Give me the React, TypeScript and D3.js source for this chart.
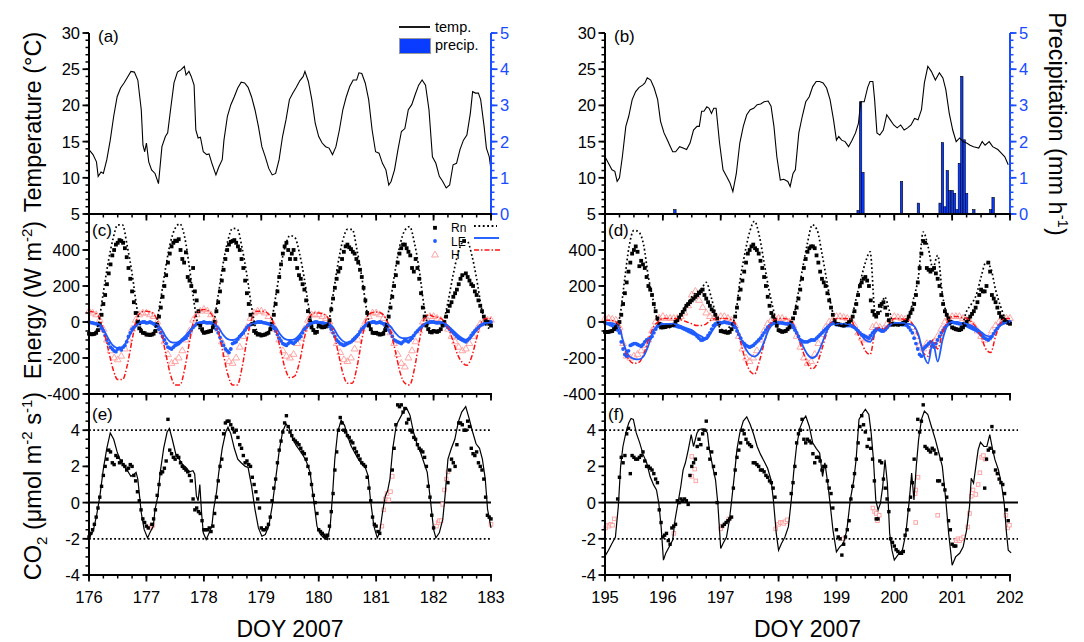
import React from 'react';
import * as d3 from 'd3';

// ---------------- data ----------------
type Pt = [number, number | null];

const DOMAIN_L: [number, number] = [176, 183];
const DOMAIN_R: [number, number] = [195, 202];
const X_TICKS_L = [176, 177, 178, 179, 180, 181, 182, 183];
const X_TICKS_R = [195, 196, 197, 198, 199, 200, 201, 202];
const TEMP_TICKS = [5, 10, 15, 20, 25, 30];
const PRECIP_TICKS = [0, 1, 2, 3, 4, 5];
const ENERGY_TICKS = [-400, -200, 0, 200, 400];
const CO2_TICKS = [-4, -2, 0, 2, 4];

// air temperature (day, °C)
const TEMP_A: [number, number][] = [
  [176.00,13.9],[176.07,13.2],[176.13,12.2],[176.16,10.2],[176.21,10.8],[176.25,10.6],[176.31,12.5],[176.37,15.2],[176.43,18.5],[176.49,21.2],[176.55,22.4],[176.61,23.1],[176.67,23.9],[176.73,24.7],[176.79,24.6],[176.85,23.5],[176.91,19.4],[176.94,14.5],[176.97,13.6],[177.00,14.8],
  [177.04,12.2],[177.09,11.1],[177.15,10.6],[177.21,9.2],[177.27,14.3],[177.33,15.7],[177.37,16.2],[177.42,19.4],[177.48,23.1],[177.54,24.6],[177.60,24.9],[177.66,25.4],[177.69,24.2],[177.74,24.7],[177.78,24.0],[177.83,22.8],[177.86,16.6],[177.90,15.5],[177.94,15.6],[177.99,13.6],
  [178.05,13.2],[178.09,13.3],[178.14,12.0],[178.21,10.4],[178.26,11.5],[178.32,12.5],[178.35,15.2],[178.41,18.5],[178.47,20.1],[178.53,21.2],[178.59,22.4],[178.65,23.2],[178.71,23.1],[178.77,22.5],[178.83,21.2],[178.89,19.4],[178.95,17.1],
  [179.01,14.3],[179.07,12.9],[179.13,11.3],[179.19,10.4],[179.25,10.6],[179.31,12.5],[179.37,15.7],[179.43,18.0],[179.49,20.8],[179.55,21.7],[179.61,22.5],[179.67,23.4],[179.73,24.0],[179.76,24.7],[179.82,23.3],[179.88,20.8],[179.94,17.5],
  [180.00,15.7],[180.06,14.8],[180.12,14.3],[180.18,14.1],[180.24,13.2],[180.30,14.3],[180.36,16.6],[180.42,19.4],[180.48,21.2],[180.54,22.6],[180.60,23.5],[180.66,23.5],[180.70,24.5],[180.75,24.4],[180.81,23.1],[180.87,20.8],[180.93,16.6],[180.99,13.6],
  [181.05,13.4],[181.11,12.0],[181.17,11.1],[181.22,9.0],[181.26,9.5],[181.32,11.1],[181.38,13.9],[181.44,16.4],[181.50,16.8],[181.56,19.4],[181.62,20.1],[181.68,21.5],[181.74,22.8],[181.80,23.5],[181.86,22.8],[181.92,19.4],[181.98,12.9],
  [182.04,12.0],[182.10,10.2],[182.16,9.5],[182.22,8.6],[182.28,9.0],[182.34,11.8],[182.40,12.0],[182.46,13.9],[182.52,15.2],[182.58,15.9],[182.64,18.9],[182.68,21.9],[182.73,21.7],[182.78,21.7],[182.82,20.8],[182.88,17.1],[182.92,14.1],[182.97,12.9],[183.00,11.1]
];

const TEMP_B: [number, number][] = [
  [195.00,12.9],[195.06,12.0],[195.12,11.1],[195.17,10.9],[195.21,9.5],[195.25,10.0],[195.30,12.9],[195.36,17.1],[195.41,18.5],[195.47,20.8],[195.53,21.9],[195.59,22.5],[195.65,22.8],[195.69,23.1],[195.73,23.8],[195.79,23.5],[195.85,22.4],[195.91,20.8],[195.96,17.8],
  [196.02,16.2],[196.08,15.2],[196.13,14.3],[196.17,13.6],[196.22,13.6],[196.29,14.3],[196.35,14.1],[196.41,13.9],[196.47,14.8],[196.53,16.6],[196.59,17.1],[196.63,17.1],[196.67,19.2],[196.71,19.2],[196.76,19.8],[196.80,19.6],[196.84,18.9],[196.88,19.6],[196.92,19.6],[196.98,14.8],
  [197.04,11.1],[197.10,10.2],[197.16,9.3],[197.21,8.1],[197.27,10.6],[197.33,14.8],[197.39,17.1],[197.45,18.7],[197.51,19.4],[197.57,19.6],[197.63,20.1],[197.69,20.2],[197.75,20.5],[197.82,20.6],[197.87,19.9],[197.92,17.1],[197.97,12.9],
  [198.03,9.7],[198.09,9.8],[198.16,9.5],[198.20,8.8],[198.25,10.6],[198.29,11.1],[198.35,16.2],[198.41,18.5],[198.47,20.5],[198.53,21.2],[198.59,22.6],[198.65,23.3],[198.71,23.3],[198.77,23.1],[198.83,22.4],[198.89,20.8],[198.95,18.0],
  [199.00,15.2],[199.04,15.7],[199.09,15.2],[199.15,15.0],[199.21,14.3],[199.27,15.2],[199.33,16.2],[199.38,17.5],[199.42,20.5],[199.48,20.5],[199.54,22.5],[199.58,23.3],[199.63,23.3],[199.66,20.8],[199.70,16.2],[199.75,15.9],[199.81,16.6],[199.87,18.7],[199.93,18.0],[199.99,17.3],
  [200.05,16.9],[200.11,17.3],[200.17,16.6],[200.23,16.9],[200.29,17.3],[200.35,18.2],[200.41,18.0],[200.47,19.4],[200.52,23.1],[200.58,25.4],[200.64,24.7],[200.71,23.5],[200.78,24.5],[200.84,23.8],[200.89,22.2],[200.95,18.9],
  [201.01,16.6],[201.07,15.0],[201.13,15.5],[201.19,15.0],[201.25,14.8],[201.31,14.5],[201.37,14.3],[201.46,14.1],[201.52,15.0],[201.57,14.5],[201.64,15.0],[201.70,14.3],[201.79,13.9],[201.85,13.4],[201.91,12.9],[201.97,11.8]
];

// hourly precipitation (mm h-1), panel b
const PRECIP_DAY = [196.208, 199.375, 199.417, 199.458, 200.125, 200.417, 200.792, 200.833, 200.875, 200.917, 200.958, 201.0, 201.042, 201.083, 201.125, 201.167, 201.208, 201.25, 201.375, 201.667, 201.708];
const PRECIP_VAL = [0.12, 0.1, 3.1, 1.15, 0.9, 0.3, 0.3, 1.97, 0.2, 1.2, 0.65, 0.65, 0.57, 0.12, 1.4, 3.8, 2.05, 0.57, 0.12, 0.12, 0.46];

// energy fluxes, panel c (modelled: 12 values per day; observed: 16 values per day, plus a
// second set taken half-way between those times)
const RN_MOD_C = [
  -65,-65,-5,165,330,460,540,540,420,270,80,-40,
  -65,-68,-15,130,300,440,520,545,470,300,100,-35,
  -60,-60,-10,150,320,450,520,515,410,260,80,-45,
  -70,-70,-15,140,300,420,480,470,380,240,70,-40,
  -30,-35,-5,150,320,450,515,515,400,250,70,-45,
  -60,-65,-15,120,290,430,510,530,440,290,90,-30,
  -45,-50,-5,110,250,370,440,450,370,240,80,-20,
  -40
];
const RN_OBS_C = [
  -65,-68,-60,-10,100,210,320,400,440,450,410,300,170,50,-35,-60,
  -70,-72,-65,-15,80,200,330,420,452,460,350,387,230,300,120,-20,
  -60,-55,-50,0,110,230,350,430,450,440,400,300,160,40,-50,-70,
  -75,-70,-60,-10,100,250,380,440,350,400,300,240,180,60,-30,-60,
  -20,-30,-25,10,130,240,300,390,430,405,380,330,250,120,-20,-60,
  -60,-70,-65,-20,80,200,330,410,430,390,300,350,240,80,-20,-55,
  -50,-55,-40,0,60,110,160,210,260,270,230,200,150,90,30,0,
  -20
];
const RN_OBS_C2 = [
  -68,-66,-45,40,150,270,370,430,455,440,360,240,110,0,-50,-62,
  -70,-70,-50,30,140,260,380,440,450,400,330,250,200,170,60,-40,
  -58,-52,-30,60,170,290,400,445,455,420,350,230,100,-10,-60,-68,
  -72,-65,-40,40,170,320,420,400,380,350,260,210,120,10,-45,-55,
  -25,-28,-10,70,190,280,350,420,415,390,350,290,190,50,-40,-62,
  -65,-68,-45,30,140,260,380,430,410,370,280,300,160,30,-40,-58,
  -52,-50,-20,30,90,140,180,240,450,250,210,170,120,60,10,-10
];
const LE_MOD_C = [
  -5,-5,-10,-40,-90,-130,-145,-140,-100,-50,-15,-5,
  -3,-3,-10,-35,-80,-110,-115,-105,-80,-50,-20,-5,
  -3,-3,-10,-30,-70,-95,-100,-90,-60,-30,-10,-3,
  -5,-5,-10,-30,-70,-95,-100,-95,-70,-35,-10,-3,
  -3,-3,-8,-30,-75,-105,-115,-110,-80,-40,-10,-3,
  -3,-3,-8,-25,-60,-85,-90,-85,-70,-40,-15,-3,
  0,0,-5,-20,-45,-70,-90,-100,-80,-45,-15,-5,
  -3
];
const LE_OBS_C = [
  0,-5,-10,-20,-50,-100,-140,-160,-150,-155,-130,-80,-40,-20,-5,0,
  -5,0,-10,-25,-60,-100,-140,-150,-130,-120,-100,-90,-60,-30,-10,-5,
  0,-5,-5,-20,-60,-110,-150,-170,-120,-110,-80,-60,-30,-15,-5,0,
  0,-5,-10,-20,-50,-90,-120,-130,-110,-120,-100,-80,-40,-20,-5,0,
  -5,-5,-10,-25,-60,-100,-120,-130,-120,-110,-90,-70,-40,-20,-5,0,
  -5,0,-10,-30,-60,-100,-110,-120,-100,-110,-90,-60,-40,-20,-10,0,
  0,-5,-5,-15,-30,-50,-70,-90,-100,-110,-90,-60,-40,-20,-10,0,
  0
];
const LE_OBS_C2 = [
  -3,-8,-15,-35,-75,-120,-150,-165,-145,-140,-110,-60,-30,-10,-3,0,
  -3,-5,-18,-40,-80,-120,-145,-140,-125,-110,-95,-75,-45,-20,-8,-3,
  -3,-3,-10,-40,-85,-130,-160,-150,-115,-95,-70,-45,-20,-10,-3,0,
  -3,-8,-15,-35,-70,-105,-125,-120,-115,-110,-90,-60,-30,-10,-3,0,
  -5,-8,-15,-40,-80,-110,-125,-125,-115,-100,-80,-55,-30,-10,-3,0,
  -3,-5,-20,-45,-80,-105,-115,-110,-105,-100,-75,-50,-30,-15,-5,0,
  -3,-3,-10,-20,-40,-60,-80,-95,-105,-100,-75,-50,-30,-15,-5,0
];
const H_MOD_C = [
  60,55,30,-40,-150,-260,-320,-320,-240,-100,20,55,
  60,55,25,-50,-170,-290,-350,-350,-260,-110,20,60,
  70,60,25,-50,-170,-290,-350,-350,-250,-100,20,60,
  60,55,25,-40,-150,-260,-310,-300,-220,-90,20,50,
  50,45,20,-50,-160,-280,-340,-340,-250,-100,20,50,
  55,50,20,-50,-160,-280,-340,-350,-260,-110,15,40,
  30,25,10,-30,-100,-180,-225,-240,-190,-90,0,20,
  20
];
const H_OBS_C = [
  60,50,40,10,-40,-100,-160,-200,-210,-190,-150,-100,-40,10,40,50,
  50,40,30,0,-50,-110,-180,-230,-220,-200,-160,-100,-50,10,40,60,
  70,60,40,10,-40,-110,-180,-220,-230,-200,-140,-80,-30,20,50,60,
  60,50,30,0,-40,-100,-160,-190,-200,-180,-120,-90,-40,10,40,40,
  40,30,20,0,-50,-120,-170,-210,-220,-200,-150,-100,-40,0,30,50,
  50,40,20,-10,-60,-120,-180,-230,-250,-200,-160,-110,-50,0,20,30,
  30,20,10,-10,-40,-80,-110,-140,-160,-150,-120,-80,-40,-10,0,10,
  10
];

// energy fluxes, panel d
const RN_MOD_D = [
  -50,-50,-30,20,220,420,510,500,430,250,120,0,
  -30,-35,-20,10,60,100,140,165,185,220,140,40,
  -40,-45,-20,30,230,380,500,560,480,330,180,60,
  -40,-50,-30,20,150,300,440,540,510,380,230,80,
  -10,-15,-10,10,120,230,330,390,60,50,140,60,
  -20,-20,-15,30,130,250,500,420,300,370,150,30,
  -30,-35,-20,60,100,150,250,330,300,180,90,20,
  -10
];
const RN_OBS_D = [
  -55,-55,-50,-30,0,100,220,330,400,390,340,300,200,150,60,-10,
  -30,-25,-20,-15,10,40,70,100,120,140,160,180,130,90,60,20,
  -50,-55,-60,-40,30,130,230,330,400,430,400,340,250,140,50,10,
  -45,-55,-50,-30,20,80,180,300,390,420,410,330,240,200,120,40,
  -10,-15,-20,-10,10,60,150,220,250,200,60,30,90,110,40,-10,
  -10,-15,-10,0,30,70,150,300,450,300,280,300,240,150,60,20,
  -30,-40,-45,-30,0,30,60,110,180,170,330,150,110,50,20,0,
  -10
];
const RN_OBS_D2 = [
  -55,-52,-40,-15,40,160,280,380,420,310,320,250,180,100,20,-30,
  -28,-22,-18,0,25,55,90,110,130,150,170,150,110,70,40,-10,
  -52,-58,-55,-10,80,180,280,380,420,410,380,300,200,90,30,-20,
  -50,-52,-40,-5,50,130,240,350,410,420,370,280,220,160,80,10,
  -12,-18,-15,0,30,100,200,240,230,120,40,50,100,80,10,-15,
  -12,-12,-5,10,50,100,220,380,440,290,290,270,200,100,40,0,
  -35,-42,-40,-15,15,45,80,150,170,200,280,130,80,30,10,-5
];
const LE_MOD_D = [
  -5,-5,-10,-35,-130,-190,-205,-208,-190,-130,-50,-20,
  -10,-10,-10,-15,-25,-35,-45,-65,-80,-95,-60,-20,
  -5,-5,-5,-20,-80,-140,-180,-192,-170,-110,-40,-10,
  -5,-5,-5,-15,-70,-130,-180,-200,-180,-120,-50,-15,
  -10,-10,-10,-15,-40,-70,-100,-110,-60,-40,-50,-20,
  -5,-5,-5,-10,-20,-70,-175,-230,-110,-220,-100,-20,
  0,0,-5,-10,-20,-35,-55,-75,-80,-50,-20,-5,
  0
];
const LE_OBS_D = [
  -5,-10,-20,-30,-60,-150,-190,-130,-120,-125,-135,-110,-95,-80,-40,-15,
  -20,-20,-15,-20,-25,-30,-40,-50,-60,-70,-90,-100,-90,-60,-20,-5,
  -5,0,-5,-10,-30,-70,-110,-130,-140,-130,-110,-90,-60,-30,-10,-5,
  -5,-5,-10,-10,-30,-60,-100,-110,-110,-100,-100,-80,-60,-40,-20,-5,
  -15,-15,-20,-20,-20,-30,-50,-70,-80,-90,-60,-40,-45,-50,-30,-15,
  -10,-10,-15,-15,-30,-60,-120,-180,-150,-130,-110,-140,-100,-60,-30,-10,
  0,-5,-10,-10,-20,-30,-40,-50,-70,-90,-100,-80,-50,-20,-5,0,
  0
];
const LE_OBS_D2 = [
  -8,-15,-25,-45,-110,-180,-160,-125,-120,-130,-125,-100,-90,-60,-25,-10,
  -20,-18,-18,-22,-28,-35,-45,-55,-65,-80,-100,-95,-75,-40,-10,-5,
  -3,-3,-8,-20,-50,-90,-120,-135,-135,-120,-100,-75,-45,-20,-8,-5,
  -5,-8,-10,-20,-45,-80,-105,-110,-105,-100,-90,-70,-50,-30,-10,-5,
  -15,-18,-20,-20,-25,-40,-60,-75,-85,-75,-50,-40,-50,-40,-20,-12,
  -10,-12,-15,-20,-45,-90,-150,-190,-140,-120,-130,-120,-80,-45,-20,-5,
  -3,-8,-10,-15,-25,-35,-45,-60,-80,-95,-90,-65,-35,-10,-3,0
];
const H_MOD_D = [
  10,10,5,-20,-140,-210,-230,-225,-180,-100,-30,0,
  20,20,20,20,10,0,-10,-20,-20,-10,10,20,
  20,20,15,-10,-100,-200,-270,-290,-220,-120,-30,10,
  20,20,15,-10,-80,-160,-230,-260,-230,-150,-60,0,
  20,20,20,10,-40,-100,-160,-180,-60,-30,-40,-10,
  20,20,15,10,-20,-80,-170,-190,-100,-150,-60,0,
  30,30,25,20,0,-30,-80,-150,-170,-80,-10,20,
  20
];
const H_OBS_D = [
  20,20,15,10,-30,-120,-190,-200,-190,-180,-160,-130,-100,-50,0,20,
  30,20,20,20,20,30,50,90,150,170,120,80,50,30,20,20,
  30,30,20,10,-20,-80,-150,-200,-220,-200,-160,-100,-50,-10,10,20,
  20,20,10,0,-20,-80,-140,-200,-230,-220,-180,-120,-70,-30,0,10,
  30,30,25,20,10,-20,-60,-90,-100,-90,-30,-20,-30,-40,-10,10,
  30,25,20,15,0,-30,-80,-130,-150,-120,-130,-110,-80,-40,0,20,
  30,30,30,20,10,0,-20,-50,-80,-100,-90,-50,-20,0,10,20,
  20
];

// CO2 flux, panel e: modelled line (day, value), observed (16 per day + half-way set), other (day, value)
const CO2_MOD_E: [number, number][] = [
  [176.00,-1.95],[176.07,-1.6],[176.13,-0.75],[176.19,0.37],[176.25,1.86],[176.31,3.0],[176.37,3.85],[176.43,3.5],[176.49,2.8],[176.55,2.3],[176.61,2.0],[176.67,1.76],[176.73,1.45],[176.79,1.58],[176.82,1.67],[176.85,1.3],[176.88,0.37],[176.91,-0.56],[176.96,-1.48],
  [177.02,-1.95],[177.06,-1.67],[177.12,-1.3],[177.15,-0.37],[177.20,0.37],[177.24,1.67],[177.30,3.0],[177.36,3.9],[177.40,4.1],[177.45,3.5],[177.51,2.7],[177.57,2.4],[177.63,2.1],[177.69,1.95],[177.75,1.7],[177.81,1.76],[177.84,1.58],[177.87,0.37],[177.90,0.1],[177.93,1.0],[177.96,-0.56],[177.99,-1.67],
  [178.04,-2.04],[178.08,-1.76],[178.14,-1.3],[178.17,-0.37],[178.22,0.56],[178.26,1.67],[178.32,3.0],[178.38,3.9],[178.42,4.17],[178.47,3.8],[178.53,3.0],[178.59,2.4],[178.65,2.2],[178.72,2.0],[178.77,1.95],[178.83,0.93],[178.89,-0.37],[178.95,-1.4],
  [179.01,-1.86],[179.07,-1.76],[179.13,-1.3],[179.19,-0.19],[179.25,1.3],[179.31,2.8],[179.37,3.9],[179.43,4.36],[179.49,4.08],[179.55,3.5],[179.61,3.15],[179.67,2.88],[179.73,2.6],[179.79,2.23],[179.85,1.67],[179.91,0.19],[179.97,-1.3],
  [180.03,-1.76],[180.09,-1.95],[180.15,-2.04],[180.20,-1.3],[180.24,0.37],[180.28,2.4],[180.33,3.9],[180.39,4.55],[180.45,4.27],[180.50,3.7],[180.56,3.15],[180.62,2.8],[180.69,2.4],[180.75,2.13],[180.81,1.95],[180.86,1.48],[180.90,0.19],[180.96,-1.3],
  [181.02,-1.95],[181.06,-1.67],[181.11,-0.56],[181.16,0.37],[181.20,0.65],[181.24,1.3],[181.29,3.0],[181.35,4.27],[181.41,4.64],[181.47,5.0],[181.53,5.23],[181.59,4.82],[181.65,3.9],[181.71,3.25],[181.77,2.8],[181.83,2.23],[181.89,1.67],[181.95,0.0],
  [182.00,-1.48],[182.04,-1.95],[182.10,-1.67],[182.16,-0.93],[182.20,0.37],[182.25,2.4],[182.31,3.0],[182.37,3.5],[182.43,4.45],[182.49,5.0],[182.56,5.3],[182.62,4.64],[182.68,3.9],[182.74,3.25],[182.80,3.0],[182.85,2.4],[182.90,1.3],[182.94,-0.37],[183.00,-1.4]
];
const CO2_OBS_E: (number | null)[] = [
  -1.9,-1.5,-0.8,0.3,1.5,2.4,2.8,2.1,2.5,2.3,2.0,1.9,2.0,1.2,0.1,-0.9,
  -1.3,null,-0.9,0.4,1.6,1.9,4.6,2.7,2.4,2.5,2.0,1.8,1.5,0.2,-0.3,-0.6,
  -1.5,-1.5,-1.6,-0.6,1.2,2.4,4.4,4.5,4.1,4.0,3.2,2.6,2.3,2.0,1.0,0.2,
  -1.4,-1.5,-1.2,0.1,1.3,2.9,3.9,4.8,3.9,3.5,3.3,3.0,2.7,2.0,1.0,0.0,
  -1.5,-1.7,-1.9,-1.3,0.5,2.8,4.7,4.0,3.7,3.4,3.0,2.6,2.2,2.0,0.8,-0.8,
  -1.3,-1.7,null,null,null,3.0,5.4,5.4,5.2,4.6,3.9,3.5,3.0,2.8,2.0,0.3,
  -1.4,null,null,null,1.1,2.4,2.0,4.4,4.3,4.0,4.2,2.7,2.8,2.0,1.3,-0.7,
  -0.9
];
const CO2_OBS_E2: (number | null)[] = [
  -1.7,-1.2,-0.3,0.9,2.0,2.9,2.2,2.6,2.2,2.1,1.8,2.1,1.5,0.6,-0.4,-1.1,
  -1.4,-1.2,-0.4,1.0,1.7,2.3,2.9,2.5,2.6,2.2,1.9,1.7,1.2,-0.4,-0.5,-1.0,
  -1.5,-1.4,-1.3,0.3,2.0,3.8,4.5,4.3,3.9,3.6,3.0,2.2,2.1,1.4,0.6,-0.3,
  -1.5,-1.4,-0.8,0.8,2.2,3.4,4.4,4.2,3.7,3.4,3.2,2.8,2.4,1.6,0.4,-0.6,
  -1.6,-1.8,-1.8,-0.5,1.8,4.0,4.4,3.9,3.6,3.3,2.8,2.4,2.1,1.4,0.1,-1.2,
  -1.6,null,null,null,1.8,4.3,5.3,5.0,4.4,4.0,3.6,3.2,2.9,2.5,0.9,-0.7,
  null,null,null,null,1.8,2.2,3.2,4.4,4.0,4.5,3.0,2.6,2.2,1.8,0.3,-0.8
];
const CO2_GAP_E: [number, number][] = [
  [177.07,-1.4],[177.09,-1.3],[177.11,-1.25],
  [181.10,-1.3],[181.13,-0.4],[181.16,0.2],[181.19,0.5],[181.22,0.15],[181.25,0.6],[181.28,1.45],
  [182.05,-1.3],[182.08,-1.1],[182.10,-1.0],[182.13,-1.0],[182.16,-0.1],[182.19,0.7],[182.22,1.3],[182.25,1.7],
  [183.00,-1.2]
];

// CO2 flux, panel f
const CO2_MOD_F: [number, number][] = [
  [195.00,-2.96],[195.06,-2.63],[195.12,-2.26],[195.18,-1.9],[195.23,-0.22],[195.27,2.0],[195.31,3.1],[195.36,3.85],[195.41,4.4],[195.45,4.65],[195.49,4.6],[195.54,3.85],[195.60,3.3],[195.66,2.65],[195.72,2.2],[195.78,1.44],[195.84,0.98],[195.89,0.7],[195.93,-0.04],[195.97,-1.33],
  [196.01,-3.18],[196.05,-2.8],[196.11,-2.44],[196.17,-2.07],[196.21,-0.96],[196.26,-0.04],[196.31,0.89],[196.35,1.81],[196.39,2.2],[196.44,2.93],[196.49,3.76],[196.53,3.1],[196.59,3.85],[196.63,4.04],[196.68,4.07],[196.73,4.04],[196.77,3.85],[196.80,3.0],[196.86,2.0],[196.91,1.26],[196.95,-0.04],
  [197.00,-2.54],[197.04,-2.26],[197.10,-1.9],[197.15,-0.96],[197.19,0.15],[197.24,1.63],[197.28,2.93],[197.33,3.85],[197.39,4.5],[197.45,4.74],[197.51,4.31],[197.57,3.76],[197.63,3.1],[197.69,2.65],[197.75,2.28],[197.81,1.9],[197.87,1.26],[197.91,0.15],[197.96,-1.7],
  [198.00,-2.63],[198.05,-2.26],[198.11,-1.9],[198.17,-1.33],[198.22,0.15],[198.26,1.63],[198.31,3.1],[198.37,4.13],[198.43,4.6],[198.47,4.78],[198.53,4.22],[198.59,3.3],[198.65,3.0],[198.71,2.74],[198.76,1.44],[198.80,2.2],[198.85,1.07],[198.89,-0.04],[198.94,-1.52],
  [199.00,-2.72],[199.06,-2.44],[199.12,-2.26],[199.18,-1.52],[199.24,0.15],[199.30,1.26],[199.34,2.37],[199.39,4.6],[199.44,4.87],[199.50,5.15],[199.56,4.87],[199.60,3.85],[199.64,2.37],[199.68,0.15],[199.72,-0.41],[199.76,-0.04],[199.80,0.89],[199.84,2.37],[199.88,1.07],[199.92,-1.7],[199.96,-2.63],
  [200.00,-3.18],[200.06,-2.9],[200.14,-2.63],[200.20,-1.7],[200.26,0.15],[200.30,1.63],[200.34,0.15],[200.38,2.0],[200.42,3.48],[200.47,4.6],[200.52,5.06],[200.58,4.87],[200.64,4.22],[200.71,3.48],[200.77,2.74],[200.83,2.0],[200.89,0.15],[200.94,-1.7],
  [201.00,-3.46],[201.06,-3.0],[201.13,-2.8],[201.19,-2.44],[201.25,-1.52],[201.30,-0.22],[201.33,1.35],[201.37,1.07],[201.41,2.0],[201.45,2.93],[201.49,3.33],[201.55,3.1],[201.60,3.1],[201.65,3.76],[201.70,2.93],[201.74,2.37],[201.80,1.81],[201.85,1.07],[201.90,-0.04],[201.94,-1.7],[201.97,-2.63],[202.02,-2.78]
];
const CO2_OBS_F: (number | null)[] = [
  null,null,null,null,1.4,2.2,3.8,1.6,2.5,2.4,2.6,2.3,2.0,1.8,1.3,-0.4,
  -1.9,-1.7,-2.3,-1.3,0.1,0.2,0.2,-0.1,2.0,2.4,3.5,3.8,4.5,2.4,2.0,0.0,
  null,-1.2,-1.0,-0.8,1.8,2.9,4.0,3.5,3.2,2.2,2.1,1.8,1.7,1.4,1.1,0.3,
  null,null,null,null,1.1,3.3,4.0,3.5,3.5,3.3,2.2,2.5,1.8,2.0,0.8,-0.3,
  -1.5,-2.0,-2.3,-1.5,0.2,1.6,3.3,4.8,3.9,3.5,2.4,-0.9,2.3,1.3,0.2,-2.0,
  -2.4,-2.7,-2.8,-1.8,-0.4,1.1,null,3.9,5.4,3.0,2.8,2.9,1.2,2.4,0.7,-1.0,
  -2.3,-2.4,null,null,null,null,null,null,null,0.8,2.9,4.2,1.8,1.3,1.0,-0.4,
  null
];
const CO2_OBS_F2: (number | null)[] = [
  null,null,null,0.2,2.5,2.6,4.1,2.6,2.4,2.5,2.8,2.0,1.9,1.6,1.1,-1.1,
  -1.8,-2.1,-1.4,-1.2,0.0,0.1,0.1,1.5,2.2,3.1,3.2,4.0,3.0,2.8,1.6,null,
  -1.3,-1.1,-0.9,0.8,2.5,3.3,3.8,3.3,3.1,2.2,2.0,1.8,1.5,1.2,0.8,null,
  null,null,null,0.5,2.0,3.8,4.6,3.3,3.4,2.7,2.5,2.3,2.0,1.2,0.5,null,
  -1.9,-2.9,-1.9,-1.0,0.9,2.4,4.2,4.3,3.1,3.0,1.2,-0.9,2.2,0.8,-0.5,-2.2,
  -2.6,-2.8,-2.7,-1.5,0.3,2.4,4.6,4.5,3.1,2.9,3.0,2.7,1.2,1.0,0.3,-1.5,
  -2.4,null,null,null,null,null,null,null,null,2.4,3.0,2.8,1.6,1.1,0.5,-1.0
];
const CO2_GAP_F: [number, number][] = [
  [195.01,-1.4],[195.04,-1.25],[195.07,-1.3],[195.10,-1.2],[195.13,-1.25],[195.16,-0.9],
  [196.19,-1.7],[196.50,2.55],[196.50,1.45],[196.55,1.85],[196.57,1.2],
  [197.00,-1.45],[197.02,-1.3],[197.14,-0.9],
  [197.95,-1.45],[198.00,-1.2],[198.03,-1.1],[198.06,-1.1],[198.09,-1.15],[198.12,-1.05],[198.15,-0.95],
  [199.12,-2.0],[199.63,-0.3],[199.66,-0.5],[199.69,-0.6],[199.71,-1.0],[199.74,-0.7],
  [200.36,0.5],[200.37,0.7],[200.41,1.4],[200.37,-1.1],[200.75,-0.7],
  [201.07,-2.1],[201.10,-2.0],[201.13,-2.1],[201.16,-2.0],[201.20,-1.9],[201.27,-1.35],[201.30,-0.6],[201.33,0.35],[201.36,0.7],[201.41,0.45],[201.45,1.0],[201.48,1.65],[201.51,2.5],[201.54,2.6],[201.57,2.4],
  [201.93,-0.7],[201.96,-1.4],[201.99,-1.25]
];

// ---------------- layout / style ----------------
const FONT = '"Liberation Sans", Arial, Helvetica, sans-serif';
const AX_BLUE = '#1a4cff';
const BAR_BLUE = '#0a3cff';
const LE_BLUE = '#1f5cff';
const PINK = '#ff9c9c';
const RED = '#ff1414';
const COL_L = { x0: 89, x1: 491 };
const COL_R = { x0: 605, x1: 1010 };
const ROW_T = { y0: 33, y1: 214 };
const ROW_E = { y0: 214, y1: 394 };
const ROW_C = { y0: 394, y1: 575 };
const HALF = 1 / 32;

type Lin = d3.ScaleLinear<number, number>;

function grid(start: number, perDay: number, vals: (number | null)[]): Pt[] {
  return vals.map((v, i) => [start + i / perDay, v] as Pt);
}

function XAxis({ x, y, ticks, labels }: { x: Lin; y: number; ticks: number[]; labels: boolean }) {
  const [d0, d1] = x.domain();
  const minors = d3.range(d0, d1 + 1e-6, 0.25);
  return (
    <g>
      {minors.map((m, i) => (
        <line key={'m' + i} x1={x(m)} x2={x(m)} y1={y} y2={y + 3.5} stroke="#000" strokeWidth={1.5} />
      ))}
      {ticks.map((t) => (
        <line key={'t' + t} x1={x(t)} x2={x(t)} y1={y} y2={y + 6.5} stroke="#000" strokeWidth={1.8} />
      ))}
      <line x1={x(d0) - 1} x2={x(d1) + 1} y1={y} y2={y} stroke="#000" strokeWidth={2} />
      {labels &&
        ticks.map((t) => (
          <text key={'l' + t} x={x(t)} y={y + 28} textAnchor="middle" fontSize={16.5}>
            {t}
          </text>
        ))}
    </g>
  );
}

function YAxis({ y, xPos, ticks, minorStep, side, color, labels }: {
  y: Lin; xPos: number; ticks: number[]; minorStep: number; side: 'left' | 'right'; color: string; labels: boolean;
}) {
  const [d0, d1] = y.domain();
  const dir = side === 'left' ? -1 : 1;
  const minors = d3.range(d0, d1 + 1e-6, minorStep);
  return (
    <g>
      {minors.map((m, i) => (
        <line key={'m' + i} x1={xPos} x2={xPos + dir * 3.5} y1={y(m)} y2={y(m)} stroke={color} strokeWidth={1.5} />
      ))}
      {ticks.map((t) => (
        <line key={'t' + t} x1={xPos} x2={xPos + dir * 6.5} y1={y(t)} y2={y(t)} stroke={color} strokeWidth={1.8} />
      ))}
      <line x1={xPos} x2={xPos} y1={y(d0) + 1} y2={y(d1)} stroke={color} strokeWidth={2} />
      {labels &&
        ticks.map((t) => (
          <text key={'l' + t} x={xPos + dir * 9} y={y(t)} dy="0.36em" textAnchor={side === 'left' ? 'end' : 'start'} fontSize={16.5} fill={color}>
            {t}
          </text>
        ))}
    </g>
  );
}

const triPath = d3.symbol().type(d3.symbolTriangle).size(20)() as string;

function TempPanel({ col, domain, ticks, temp, precip, label, legend }: {
  col: { x0: number; x1: number }; domain: [number, number]; ticks: number[]; temp: [number, number][];
  precip: boolean; label: string; legend: boolean;
}) {
  const x = d3.scaleLinear().domain(domain).range([col.x0, col.x1]);
  const y = d3.scaleLinear().domain([5, 30]).range([ROW_T.y1, ROW_T.y0]);
  const yp = d3.scaleLinear().domain([0, 5]).range([ROW_T.y1, ROW_T.y0]);
  const line = d3.line<[number, number]>().x((d) => x(d[0])).y((d) => y(d[1]));
  const bw = x(domain[0] + 1 / 24) - x(domain[0]);
  return (
    <g>
      {precip &&
        PRECIP_DAY.map((d, i) => (
          <rect key={'p' + i} x={x(d) - bw / 2} y={yp(PRECIP_VAL[i])} width={bw} height={yp(0) - yp(PRECIP_VAL[i])} fill={BAR_BLUE} stroke="#000" strokeWidth={0.6} />
        ))}
      <path d={line(temp) as string} fill="none" stroke="#000" strokeWidth={1.1} />
      <YAxis y={y} xPos={col.x0} ticks={TEMP_TICKS} minorStep={1} side="left" color="#000" labels />
      <YAxis y={yp} xPos={col.x1} ticks={PRECIP_TICKS} minorStep={0.2} side="right" color={AX_BLUE} labels />
      <XAxis x={x} y={ROW_T.y1} ticks={ticks} labels={false} />
      <text x={col.x0 + 9} y={ROW_T.y0 + 9} fontSize={17}>{label}</text>
      {legend && (
        <g fontSize={14.5}>
          <line x1={399} x2={430} y1={27} y2={27} stroke="#000" strokeWidth={1.8} />
          <text x={435} y={32}>temp.</text>
          <rect x={399.5} y={38.5} width={31} height={15} fill={BAR_BLUE} stroke="#999" strokeWidth={1} />
          <text x={435} y={50}>precip.</text>
        </g>
      )}
    </g>
  );
}

function EnergyPanel({ col, domain, ticks, rnMod, rnObs, rnObs2, leMod, leObs, leObs2, hMod, hObs, label, legend }: {
  col: { x0: number; x1: number }; domain: [number, number]; ticks: number[];
  rnMod: number[]; rnObs: number[]; rnObs2: number[]; leMod: number[]; leObs: number[]; leObs2: number[];
  hMod: number[]; hObs: number[]; label: string; legend: boolean;
}) {
  const x = d3.scaleLinear().domain(domain).range([col.x0, col.x1]);
  const y = d3.scaleLinear().domain([-400, 600]).range([ROW_E.y1, ROW_E.y0]);
  const line = d3.line<Pt>().x((d) => x(d[0])).y((d) => y(d[1] as number)).curve(d3.curveMonotoneX);
  const s = domain[0];
  const rnM = grid(s, 12, rnMod), leM = grid(s, 12, leMod), hM = grid(s, 12, hMod);
  const rnO = [...grid(s, 16, rnObs), ...grid(s + HALF, 16, rnObs2)];
  const leO = [...grid(s, 16, leObs), ...grid(s + HALF, 16, leObs2)];
  const hO = grid(s, 16, hObs);
  return (
    <g>
      {hO.map((d, i) => (
        <path key={'h' + i} d={triPath} transform={`translate(${x(d[0])},${y(d[1] as number)})`} fill="none" stroke={PINK} strokeWidth={0.9} />
      ))}
      {leO.map((d, i) => (
        <circle key={'le' + i} cx={x(d[0])} cy={y(d[1] as number)} r={1.9} fill={LE_BLUE} />
      ))}
      {rnO.map((d, i) => (
        <rect key={'rn' + i} x={x(d[0]) - 1.9} y={y(d[1] as number) - 1.9} width={3.8} height={3.8} fill="#000" />
      ))}
      <path d={line(hM) as string} fill="none" stroke={RED} strokeWidth={1.5} strokeDasharray="5 2 1.5 2" />
      <path d={line(leM) as string} fill="none" stroke={LE_BLUE} strokeWidth={1.8} />
      <path d={line(rnM) as string} fill="none" stroke="#000" strokeWidth={1.7} strokeDasharray="1.7 2.5" />
      <YAxis y={y} xPos={col.x0} ticks={ENERGY_TICKS} minorStep={50} side="left" color="#000" labels />
      <XAxis x={x} y={ROW_E.y1} ticks={ticks} labels={false} />
      <text x={col.x0 + 3} y={ROW_E.y0 + 22} fontSize={17}>{label}</text>
      {legend && (
        <g fontSize={12}>
          <rect x={433.1} y={225.9} width={3.8} height={3.8} fill="#000" />
          <text x={451} y={232}>Rn</text>
          <line x1={474} x2={497} y1={226} y2={226} stroke="#000" strokeWidth={1.8} strokeDasharray="1.8 2.6" />
          <circle cx={435} cy={241} r={1.9} fill={LE_BLUE} />
          <text x={451} y={245.5}>LE</text>
          <line x1={474} x2={499} y1={238} y2={238} stroke={LE_BLUE} strokeWidth={1.9} />
          <path d={triPath} transform="translate(435,255)" fill="none" stroke={PINK} strokeWidth={0.9} />
          <text x={451} y={259}>H</text>
          <line x1={474} x2={502} y1={250} y2={250} stroke={RED} strokeWidth={1.6} strokeDasharray="5 2 1.5 2" />
        </g>
      )}
    </g>
  );
}

function Co2Panel({ col, domain, ticks, mod, obs, obs2, gap, label, lineExtra }: {
  col: { x0: number; x1: number }; domain: [number, number]; ticks: number[];
  mod: [number, number][]; obs: (number | null)[]; obs2: (number | null)[]; gap: [number, number][]; label: string; lineExtra: number;
}) {
  const x = d3.scaleLinear().domain(domain).range([col.x0, col.x1]);
  const y = d3.scaleLinear().domain([-4, 6]).range([ROW_C.y1, ROW_C.y0]);
  const line = d3.line<[number, number]>().x((d) => x(d[0])).y((d) => y(d[1]));
  const o = [...grid(domain[0], 16, obs), ...grid(domain[0] + HALF, 16, obs2)].filter((d) => d[1] !== null);
  return (
    <g>
      <line x1={col.x0} x2={col.x1 + lineExtra} y1={y(4)} y2={y(4)} stroke="#000" strokeWidth={1.8} strokeDasharray="1.8 2.4" />
      <line x1={col.x0} x2={col.x1 + lineExtra} y1={y(-2)} y2={y(-2)} stroke="#000" strokeWidth={1.8} strokeDasharray="1.8 2.4" />
      <line x1={col.x0} x2={col.x1 + lineExtra} y1={y(0)} y2={y(0)} stroke="#000" strokeWidth={2} />
      {gap.map((d, i) => (
        <rect key={'g' + i} x={x(d[0]) - 1.8} y={y(d[1]) - 1.8} width={3.6} height={3.6} fill="#fff" stroke={PINK} strokeWidth={0.9} />
      ))}
      {o.map((d, i) => (
        <rect key={'o' + i} x={x(d[0]) - 1.7} y={y(d[1] as number) - 1.7} width={3.4} height={3.4} fill="#000" />
      ))}
      <path d={line(mod) as string} fill="none" stroke="#000" strokeWidth={1.2} />
      <YAxis y={y} xPos={col.x0} ticks={CO2_TICKS} minorStep={0.5} side="left" color="#000" labels />
      <XAxis x={x} y={ROW_C.y1} ticks={ticks} labels />
      <text x={col.x0 + 3} y={ROW_C.y0 + 26} fontSize={17}>{label}</text>
      <text x={(col.x0 + col.x1) / 2} y={637} textAnchor="middle" fontSize={23}>DOY 2007</text>
    </g>
  );
}

export default function App() {
  return (
    <svg width={1084} height={642} viewBox="0 0 1084 642" style={{ position: 'absolute', left: 0, top: 0, background: '#fff' }} fontFamily={FONT}>
      <rect x={0} y={0} width={1084} height={642} fill="#fff" />
      <TempPanel col={COL_L} domain={DOMAIN_L} ticks={X_TICKS_L} temp={TEMP_A} precip={false} label="(a)" legend />
      <TempPanel col={COL_R} domain={DOMAIN_R} ticks={X_TICKS_R} temp={TEMP_B} precip label="(b)" legend={false} />
      <EnergyPanel col={COL_L} domain={DOMAIN_L} ticks={X_TICKS_L} rnMod={RN_MOD_C} rnObs={RN_OBS_C} rnObs2={RN_OBS_C2} leMod={LE_MOD_C} leObs={LE_OBS_C} leObs2={LE_OBS_C2} hMod={H_MOD_C} hObs={H_OBS_C} label="(c)" legend />
      <EnergyPanel col={COL_R} domain={DOMAIN_R} ticks={X_TICKS_R} rnMod={RN_MOD_D} rnObs={RN_OBS_D} rnObs2={RN_OBS_D2} leMod={LE_MOD_D} leObs={LE_OBS_D} leObs2={LE_OBS_D2} hMod={H_MOD_D} hObs={H_OBS_D} label="(d)" legend={false} />
      <Co2Panel col={COL_L} domain={DOMAIN_L} ticks={X_TICKS_L} mod={CO2_MOD_E} obs={CO2_OBS_E} obs2={CO2_OBS_E2} gap={CO2_GAP_E} label="(e)" lineExtra={0} />
      <Co2Panel col={COL_R} domain={DOMAIN_R} ticks={X_TICKS_R} mod={CO2_MOD_F} obs={CO2_OBS_F} obs2={CO2_OBS_F2} gap={CO2_GAP_F} label="(f)" lineExtra={8} />
      <text transform="translate(41,122) rotate(-90)" textAnchor="middle" fontSize={23.5}>Temperature (°C)</text>
      <text transform="translate(41,300) rotate(-90)" textAnchor="middle" fontSize={23.5}>
        Energy (W m<tspan dy={-9} fontSize={15}>-2</tspan><tspan dy={9}>)</tspan>
      </text>
      <text transform="translate(41,486) rotate(-90)" textAnchor="middle" fontSize={23.5}>
        CO<tspan dy={6} fontSize={15}>2</tspan><tspan dy={-6}>{' (μmol m'}</tspan><tspan dy={-9} fontSize={15}>-2</tspan><tspan dy={9}>{' s'}</tspan><tspan dy={-9} fontSize={15}>-1</tspan><tspan dy={9}>)</tspan>
      </text>
      <text transform="translate(1049,124) rotate(90)" textAnchor="middle" fontSize={23.5}>
        Precipitation (mm h<tspan dy={-9} fontSize={15}>-1</tspan><tspan dy={9}>)</tspan>
      </text>
    </svg>
  );
}
